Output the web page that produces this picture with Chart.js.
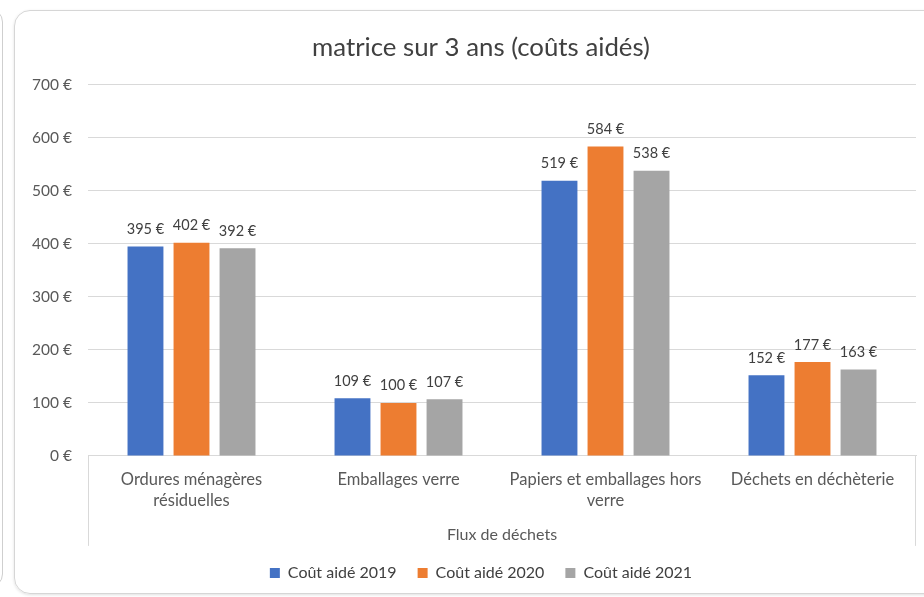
<!DOCTYPE html>
<html lang="fr">
<head>
<meta charset="UTF-8">
<title>matrice sur 3 ans (coûts aidés)</title>
<style>
    body { margin: 0; background: #fff; width: 924px; height: 597px; overflow: hidden; position: relative; font-family: Lato, sans-serif; }
    #prev { position: absolute; left: -30px; top: 8px; width: 31px; height: 578px; border: 1px solid #cfcfcf; border-radius: 14px; }
    #card { position: absolute; left: 14px; top: 10px; width: 930px; height: 582px; border: 1px solid #d6d6d6; border-radius: 16px; box-shadow: 0 1px 3px rgba(0,0,0,0.12); }
    #chart { position: absolute; left: 0; top: 0; }
</style>
<script src="https://cdn.jsdelivr.net/npm/chart.js"></script>
</head>
<body>
<div id="prev"></div>
<div id="card"></div>
<!-- le graphique déborde à droite de la fenêtre, comme la carte d'origine -->
<canvas id="chart" width="960" height="597"></canvas>
<script>
    const categories = [
        ['Ordures ménagères', 'résiduelles'],
        'Emballages verre',
        ['Papiers et emballages hors', 'verre'],
        'Déchets en déchèterie'
    ];
    const cout2019 = [395, 109, 519, 152];
    const cout2020 = [402, 100, 584, 177];
    const cout2021 = [392, 107, 538, 163];
    const yTicks = [0, 100, 200, 300, 400, 500, 600, 700];

    const euro = v => v + ' €';

    // étiquettes de valeurs au-dessus des barres
    const valueLabels = {
        id: 'valueLabels',
        afterDatasetsDraw(chart) {
            const ctx = chart.ctx;
            ctx.save();
            ctx.font = '14.5px Lato';
            ctx.fillStyle = '#404040';
            ctx.textAlign = 'center';
            ctx.textBaseline = 'bottom';
            chart.data.datasets.forEach((ds, i) => {
                chart.getDatasetMeta(i).data.forEach((bar, j) => {
                    ctx.fillText(euro(ds.data[j]), bar.x, bar.y - 10);
                });
            });
            ctx.restore();
        }
    };

    // traits verticaux du regroupement "Flux de déchets"
    const groupLines = {
        id: 'groupLines',
        afterDraw(chart) {
            const a = chart.chartArea;
            const ctx = chart.ctx;
            ctx.save();
            ctx.strokeStyle = '#d9d9d9';
            ctx.lineWidth = 1;
            ctx.beginPath();
            ctx.moveTo(a.left + 0.5, a.bottom);
            ctx.lineTo(a.left + 0.5, a.bottom + 90);
            ctx.moveTo(a.right - 0.5, a.bottom);
            ctx.lineTo(a.right - 0.5, a.bottom + 90);
            ctx.stroke();
            ctx.restore();
        }
    };

    new Chart(document.getElementById('chart'), {
        type: 'bar',
        data: {
            labels: categories,
            datasets: [
                { label: 'Coût aidé 2019', data: cout2019, backgroundColor: '#4472C4' },
                { label: 'Coût aidé 2020', data: cout2020, backgroundColor: '#ED7D31' },
                { label: 'Coût aidé 2021', data: cout2021, backgroundColor: '#A5A5A5' }
            ]
        },
        options: {
            responsive: false,
            animation: false,
            categoryPercentage: 0.667,
            barPercentage: 0.78,
            layout: { padding: { left: 20, right: 18, top: 0, bottom: 6 } },
            plugins: {
                title: {
                    display: true,
                    text: 'matrice sur 3 ans (coûts aidés)',
                    color: '#404040',
                    font: { family: 'Lato', size: 25.8, weight: 'normal' },
                    padding: { top: 32, bottom: 22 }
                },
                legend: {
                    position: 'bottom',
                    labels: {
                        color: '#404040',
                        font: { family: 'Lato', size: 16 },
                        boxWidth: 10,
                        boxHeight: 10,
                        padding: 21
                    }
                },
                tooltip: { enabled: false }
            },
            scales: {
                x: {
                    grid: { display: false, drawTicks: false },
                    border: { color: '#d9d9d9' },
                    ticks: {
                        color: '#595959',
                        font: { family: 'Lato', size: 16.5, lineHeight: 1.3 },
                        padding: 13,
                        maxRotation: 0
                    },
                    title: {
                        display: true,
                        text: 'Flux de déchets',
                        color: '#595959',
                        font: { family: 'Lato', size: 16 },
                        padding: { top: 0, bottom: 0 }
                    }
                },
                y: {
                    min: 0,
                    max: 700,
                    afterBuildTicks(scale) { scale.ticks = yTicks.map(v => ({ value: v })); },
                    afterFit(scale) { scale.width = 68; },
                    grid: { color: '#d9d9d9', drawTicks: false },
                    border: { display: false },
                    ticks: {
                        color: '#595959',
                        font: { family: 'Lato', size: 15.5 },
                        padding: 16,
                        callback: v => euro(v)
                    }
                },
                // axe vide à droite : ne sert qu'à réserver la marge de la carte
                yPad: {
                    position: 'right',
                    min: 0,
                    max: 700,
                    afterFit(scale) { scale.width = 26; },
                    grid: { display: false, drawTicks: false },
                    border: { display: false },
                    ticks: { display: false }
                }
            }
        },
        plugins: [valueLabels, groupLines]
    });
</script>
</body>
</html>
